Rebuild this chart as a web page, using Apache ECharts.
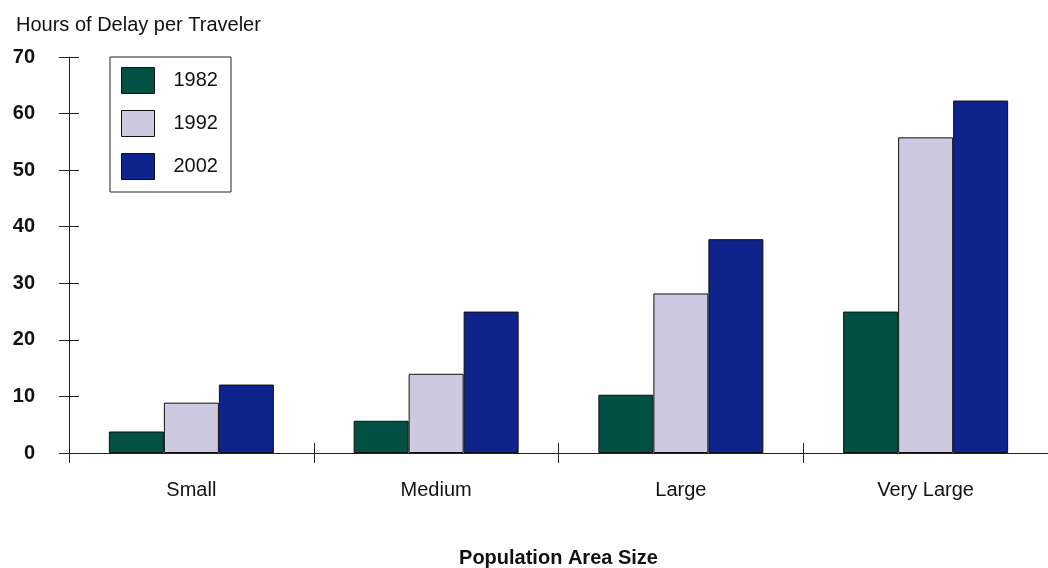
<!DOCTYPE html>
<html>
<head>
<meta charset="utf-8">
<script src="https://cdn.jsdelivr.net/npm/echarts@6/dist/echarts.min.js"></script>
<style>html,body{margin:0;padding:0;background:#fff}#c{width:1048px;height:568px}</style>
</head>
<body>
<div id="c"></div>
<script>
const categories = ['Small', 'Medium', 'Large', 'Very Large'];
const years = ['1982', '1992', '2002'];
const values1982 = [3.8, 5.7, 10.3, 25.0];
const values1992 = [8.9, 14.0, 28.2, 55.8];
const values2002 = [12.1, 25.0, 37.8, 62.3];
const yTicks = { min: 0, max: 70, interval: 10 };
const colors = ['#005044', '#CCC9E1', '#0E238C'];

const FONT = '"Liberation Sans Narrow", "Liberation Sans", Arial, sans-serif';
const chart = echarts.init(document.getElementById('c'));
const seriesData = [values1982, values1992, values2002];

chart.setOption({
  animation: false,
  backgroundColor: '#fff',
  title: {
    text: 'Hours of Delay per Traveler',
    left: 11, top: 10,
    textStyle: { fontFamily: FONT, fontSize: 20, fontWeight: 'normal', color: '#111' }
  },
  legend: {
    data: years,
    orient: 'vertical',
    left: 110, top: 57,
    padding: [10, 13, 12, 11],
    itemWidth: 33, itemHeight: 26, itemGap: 16,
    borderColor: '#222', borderWidth: 1,
    icon: 'rect',
    itemStyle: { borderColor: '#111', borderWidth: 1 },
    textStyle: { fontFamily: FONT, fontSize: 20, color: '#111', padding: [0, 0, 0, 14] }
  },
  grid: { left: 69, right: 0, top: 57, bottom: 115, containLabel: false, outerBoundsMode: 'none' },
  xAxis: [{
    type: 'category',
    data: categories,
    position: 'bottom',
    axisLine: { lineStyle: { color: '#222', width: 1 } },
    axisTick: { show: true, length: 10, lineStyle: { color: '#222' } },
    axisLabel: { fontFamily: FONT, fontSize: 20, color: '#111', margin: 27 },
    name: 'Population Area Size',
    nameLocation: 'middle',
    nameGap: 95,
    nameTextStyle: { fontFamily: FONT, fontSize: 20, fontWeight: 'bold', color: '#111' }
  }, {
    type: 'category',
    data: categories,
    position: 'bottom',
    axisLine: { show: false },
    axisTick: { show: true, inside: true, length: 10, lineStyle: { color: '#222' } },
    axisLabel: { show: false }
  }],
  yAxis: [{
    type: 'value',
    min: yTicks.min, max: yTicks.max, interval: yTicks.interval,
    position: 'left',
    axisLine: { show: true, lineStyle: { color: '#222', width: 1 } },
    axisTick: { show: true, length: 10, lineStyle: { color: '#222' } },
    splitLine: { show: false },
    axisLabel: { fontFamily: FONT, fontSize: 20, fontWeight: 'bold', color: '#111', margin: 34 }
  }, {
    type: 'value',
    min: yTicks.min, max: yTicks.max, interval: yTicks.interval,
    position: 'left', offset: 0,
    axisLine: { show: false },
    axisTick: { show: true, inside: true, length: 10, lineStyle: { color: '#222' } },
    splitLine: { show: false },
    axisLabel: { show: false }
  }],
  series: years.map((y, i) => ({
    name: y,
    type: 'bar',
    data: seriesData[i],
    xAxisIndex: 0, yAxisIndex: 0,
    barWidth: 55,
    barGap: '0%',
    itemStyle: { color: colors[i], borderColor: '#111', borderWidth: 1 }
  }))
});
</script>
</body>
</html>
